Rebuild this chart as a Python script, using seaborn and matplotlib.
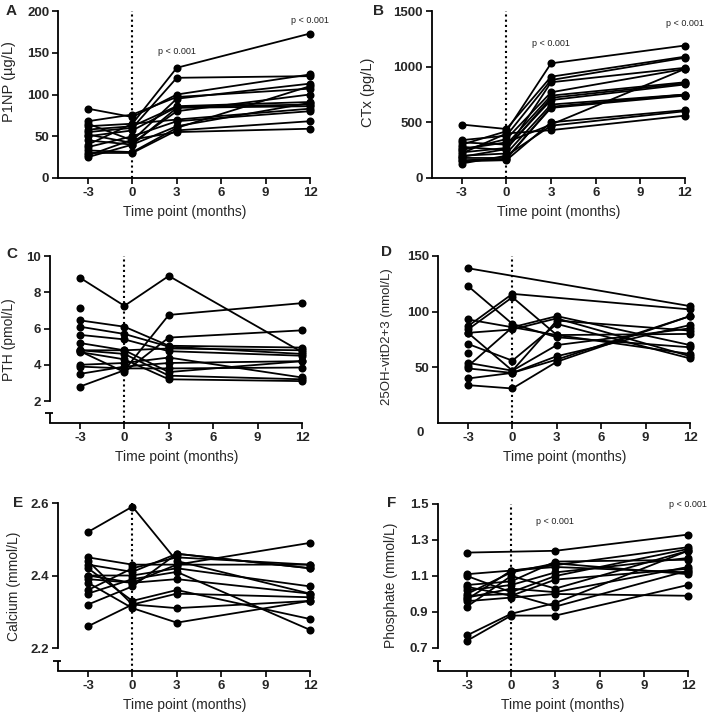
import numpy as np
import pandas as pd
import matplotlib
matplotlib.use("Agg")
import matplotlib.pyplot as plt
import seaborn as sns

nan = np.nan
time_points = [-3, 0, 3, 12]
x_ticks = [-3, 0, 3, 6, 9, 12]
x_tick_labels = ["-3", "0", "3", "6", "9", "12"]

p1np = [
    [62, 65, 132, 173], [55, 60, 120, 122], [83, 73, 100, 124], [68, 76, 97, 107],
    [65, 45, 95, 113], [58, 62, 86, 91], [50, 57, 85, 88], [45, 40, 84, 86],
    [52, 42, 80, 100], [40, 65, 70, 83], [37, 50, 68, 80], [33, 31, 60, 110],
    [30, 30, 57, 68], [27, 46, 55, 59], [25, 40, 62, 90],
]
ctx = [
    [300, 420, 1030, 1190], [480, 440, 910, 1090], [340, 380, 880, 1080], [280, 250, 860, 990],
    [250, 350, 770, 980], [320, 300, 740, 860], [230, 270, 700, 840], [200, 220, 660, 750],
    [180, 180, 630, 740], [150, 160, 500, 610], [130, 200, 470, 600], [220, 400, 430, 560],
    [260, 320, 480, 980], [160, 170, 640, 750], [190, 260, 720, 850],
]
pth = [
    [8.8, 7.25, 8.9, 4.7], [7.15, nan, nan, nan], [6.45, 6.1, 5.05, 4.95], [6.1, 5.7, 5.0, 4.6],
    [5.65, 5.4, 4.75, 4.5], [5.2, 4.8, 4.9, 4.8], [4.8, 4.6, 3.4, 3.2], [4.7, 4.3, 3.2, 3.1],
    [4.0, 4.1, 4.4, 3.3], [3.9, 3.8, 3.8, 3.85], [3.5, 3.9, 4.1, 4.2], [2.8, 3.7, 6.75, 7.4],
    [4.75, 3.6, 5.5, 5.9], [4.8, 4.8, 3.6, 4.2],
]
vitd = [
    [139, nan, nan, 105], [123, 89, 77, 68], [87, 116, nan, 102], [84, 113, 79, 62],
    [93, 86, 96, 70], [81, 84, 94, 60], [71, 56, 89, 58], [63, nan, nan, nan],
    [54, 47, 92, 83], [51, 86, 79, 80], [49, 45, 57, 96], [40, 45, 60, 88],
    [34, 31, 55, 96], [81, 47, 70, 85],
]
calcium = [
    [2.52, 2.59, 2.44, 2.35], [2.45, 2.43, 2.43, 2.43], [2.44, 2.32, 2.31, 2.33], [2.43, 2.41, 2.46, 2.42],
    [2.42, 2.33, 2.36, 2.28], [2.40, 2.40, 2.42, 2.37], [2.39, 2.38, 2.39, 2.35], [2.38, 2.31, 2.27, 2.33],
    [2.36, 2.42, 2.45, 2.43], [2.35, 2.39, 2.41, 2.25], [2.32, 2.37, 2.46, 2.42], [2.26, 2.32, 2.35, 2.34],
    [2.40, 2.38, 2.43, 2.49],
]
phosphate = [
    [1.23, nan, 1.24, 1.33], [1.11, 1.13, 1.15, 1.12], [1.10, 1.01, 1.10, 1.25], [1.05, 1.07, 1.18, 1.19],
    [1.04, 0.99, 1.08, 1.14], [1.02, 1.05, 1.12, 1.20], [1.00, 1.12, 1.17, 1.11], [0.98, 1.03, 1.01, 1.15],
    [0.97, 1.13, 1.16, 1.26], [0.96, 0.98, 1.00, 0.99], [0.93, 1.10, 1.03, 1.24], [0.77, 0.89, 0.95, 1.24],
    [0.74, 0.88, 0.88, 1.05], [0.99, 1.00, 0.93, 1.13],
]

panels = [
    dict(letter="A", data=p1np, ylabel="P1NP (µg/L)", ylim=(0, 200), yticks=[0, 50, 100, 150, 200],
         ytl=["0", "50", "100", "150", "200"], bounds=None, ylfs=10.5,
         pvals=[(3, 152, "p < 0.001"), (12, 189, "p < 0.001")]),
    dict(letter="B", data=ctx, ylabel="CTx (pg/L)", ylim=(0, 1500), yticks=[0, 500, 1000, 1500],
         ytl=["0", "500", "1000", "1500"], bounds=None, ylfs=10.5,
         pvals=[(3, 1212, "p < 0.001"), (12, 1392, "p < 0.001")]),
    dict(letter="C", data=pth, ylabel="PTH (pmol/L)", ylim=(0.79, 10), yticks=[2, 4, 6, 8, 10],
         ytl=["2", "4", "6", "8", "10"], bounds=(2, 10), ylfs=10, pvals=[]),
    dict(letter="D", data=vitd, ylabel="25OH-vitD2+3 (nmol/L)", ylim=(0, 150), yticks=[50, 100, 150],
         ytl=["50", "100", "150"], bounds=None, ylfs=9.5, pvals=[]),
    dict(letter="E", data=calcium, ylabel="Calcium (mmol/L)", ylim=(2.1366, 2.6), yticks=[2.2, 2.4, 2.6],
         ytl=["2.2", "2.4", "2.6"], bounds=(2.2, 2.6), ylfs=10, pvals=[]),
    dict(letter="F", data=phosphate, ylabel="Phosphate (mmol/L)", ylim=(0.572, 1.5),
         yticks=[0.7, 0.9, 1.1, 1.3, 1.5], ytl=["0.7", "0.9", "1.1", "1.3", "1.5"], bounds=(0.7, 1.5),
         ylfs=10, pvals=[(3, 1.40, "p < 0.001"), (12, 1.495, "p < 0.001")]),
]

# pixel layout: (left, right, top, bottom)
layout = [(58.4, 310, 11, 178), (432, 685, 11, 178), (50.4, 302, 256, 423),
          (438.4, 690, 256, 423), (58.4, 310, 503, 671), (437.5, 688, 504, 671)]
letter_pos = [(11, 11), (379, 11), (12, 254), (387, 252), (18, 503), (392, 503)]
# y label: (right edge px, vertical centre px)
ylabel_pos = [(16, 82), (375, 92), (16, 340), (393, 337), (21, 586), (398, 585)]

sns.set_theme(style="ticks")
plt.rcParams["font.family"] = ["Liberation Sans", "DejaVu Sans"]
plt.rcParams["axes.unicode_minus"] = False

W, H = 709, 714
fig = plt.figure(figsize=(W / 100, H / 100), dpi=100)

for p, (l, r, t, b), (lx, ly), (yx, yy) in zip(panels, layout, letter_pos, ylabel_pos):
    ax = fig.add_axes([l / W, 1 - b / H, (r - l) / W, (b - t) / H])
    rows = []
    for sid, vals in enumerate(p["data"]):
        for tp, v in zip(time_points, vals):
            if not np.isnan(v):
                rows.append(dict(subject=sid, time=tp, value=v))
    df = pd.DataFrame(rows)
    ax.axvline(0, color="black", linestyle=(0, (1, 1.5)), linewidth=1.5, zorder=1)
    sns.lineplot(data=df, x="time", y="value", units="subject", estimator=None,
                 color="black", marker="o", markersize=5.8, markeredgewidth=0,
                 linewidth=1.3, ax=ax, legend=False, zorder=3)
    for ln in ax.lines:
        ln.set_clip_on(False)
    ax.set_xlim(-5, 12)
    ax.set_ylim(*p["ylim"])
    ax.set_xticks(x_ticks)
    ax.set_xticklabels(x_tick_labels)
    ax.set_yticks(p["yticks"])
    ax.set_yticklabels(p["ytl"])
    for lab in ax.get_xticklabels() + ax.get_yticklabels():
        lab.set_fontweight("bold")
        lab.set_fontsize(9.5)
    ax.tick_params(axis="both", length=4, width=1.2, color="black", pad=2.5)
    for s in ("top", "right"):
        ax.spines[s].set_visible(False)
    for s in ("left", "bottom"):
        ax.spines[s].set_linewidth(1.3)
        ax.spines[s].set_color("black")
    ax.set_xlabel("Time point (months)", fontsize=10)
    ax.xaxis.set_label_coords(0.5, -27 / (b - t))
    ax.set_ylabel(p["ylabel"], fontsize=p["ylfs"])
    ax.yaxis.set_label_coords((yx - l) / (r - l), (b - yy) / (b - t))
    if p["bounds"] is not None:
        ax.spines["left"].set_bounds(*p["bounds"])
        stub = 10 / (b - t)
        ax.plot([0, 0], [0, stub], transform=ax.transAxes, color="black", lw=1.3,
                clip_on=False, solid_capstyle="butt")
        ax.plot([-5 / (r - l), 3 / (r - l)], [stub, stub], transform=ax.transAxes,
                color="black", lw=1.3, clip_on=False, solid_capstyle="butt")
    for px, py, txt in p["pvals"]:
        ax.text(px, py, txt, fontsize=6.5, ha="center", va="center", color="#222222")
    fig.text(lx / W, 1 - ly / H, p["letter"], fontsize=11, fontweight="bold",
             ha="center", va="center")
    if p["letter"] == "D":
        fig.text(420 / W, 1 - 433 / H, "0", fontsize=9.5, fontweight="bold",
                 ha="center", va="center")

fig.savefig("out.png", dpi=100)
